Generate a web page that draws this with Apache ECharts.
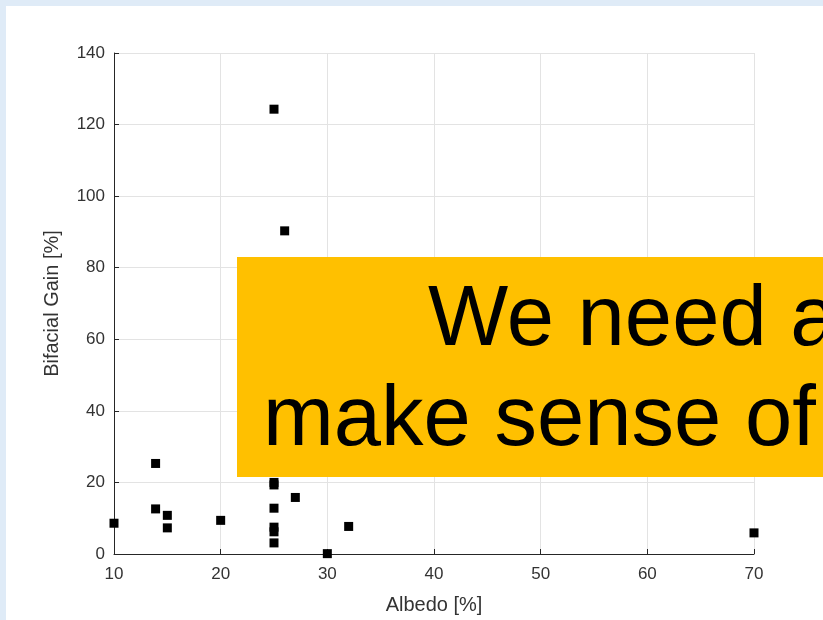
<!DOCTYPE html>
<html>
<head>
<meta charset="utf-8">
<script src="https://cdn.jsdelivr.net/npm/echarts@6/dist/echarts.min.js"></script>
<style>
html,body{margin:0;padding:0;background:#dfebf7;width:823px;height:620px;overflow:hidden;}
#chart{position:absolute;left:6px;top:6px;width:817px;height:614px;background:#ffffff;}
</style>
</head>
<body>
<div id="chart"></div>
<script>
const albedo = [10, 13.9, 13.9, 15, 15, 20, 25, 26, 25, 25, 25, 25, 25, 25, 27, 30, 32, 70];
const bifacialGain = [8.6, 25.3, 12.6, 10.8, 7.3, 9.4, 124.3, 90.3, 20.0, 19.3, 12.8, 7.5, 6.2, 3.1, 15.8, 0.1, 7.7, 5.9];
const xTicks = [10, 20, 30, 40, 50, 60, 70];
const yTicks = [0, 20, 40, 60, 80, 100, 120, 140];
const xName = 'Albedo [%]';
const yName = 'Bifacial Gain [%]';
const calloutLines = ['We need a', 'make sense of'];

const points = albedo.map((x, i) => [x, bifacialGain[i]]);
const chart = echarts.init(document.getElementById('chart'), null, {renderer: 'canvas'});
const FONT = 'Liberation Sans, Arial, sans-serif';
const axisText = {color: '#333333', fontFamily: FONT, fontSize: 17};
chart.setOption({
  backgroundColor: '#ffffff',
  animation: false,
  grid: {left: 108, top: 47, width: 640, height: 506, containLabel: false},
  xAxis: {
    type: 'value', min: xTicks[0], max: xTicks[xTicks.length - 1], interval: 10,
    name: xName, nameLocation: 'middle', nameGap: 41,
    nameTextStyle: {color: '#333333', fontFamily: FONT, fontSize: 20},
    axisLine: {show: true, onZero: false, lineStyle: {color: '#262626', width: 1}},
    axisTick: {show: true, inside: true, length: 5, lineStyle: {color: '#262626'}},
    axisLabel: Object.assign({margin: 12}, axisText),
    splitLine: {show: true, lineStyle: {color: '#e3e3e3', width: 1}}
  },
  yAxis: {
    type: 'value', min: yTicks[0], max: yTicks[yTicks.length - 1], interval: 20,
    name: yName, nameLocation: 'middle', nameGap: 52, nameRotate: 90,
    nameTextStyle: {color: '#333333', fontFamily: FONT, fontSize: 20},
    axisLine: {show: true, onZero: false, lineStyle: {color: '#262626', width: 1}},
    axisTick: {show: true, inside: true, length: 5, lineStyle: {color: '#262626'}},
    axisLabel: Object.assign({margin: 9}, axisText),
    splitLine: {show: true, lineStyle: {color: '#e3e3e3', width: 1}}
  },
  series: [{
    type: 'scatter', data: points, symbol: 'rect', symbolSize: 9,
    itemStyle: {color: '#000000', opacity: 1}, clip: false, z: 5
  }],
  graphic: [
    {type: 'rect', z: 100, shape: {x: 231, y: 251, width: 600, height: 220}, style: {fill: '#ffc000'}},
    {type: 'text', z: 101, x: 422, y: 316, style: {text: calloutLines[0], fill: '#000000', font: '85px "Liberation Sans", Arial, sans-serif', textAlign: 'left', textVerticalAlign: 'middle'}},
    {type: 'text', z: 101, x: 257, y: 416, style: {text: calloutLines[1], fill: '#000000', font: '85px "Liberation Sans", Arial, sans-serif', textAlign: 'left', textVerticalAlign: 'middle'}}
  ]
});
</script>
</body>
</html>
